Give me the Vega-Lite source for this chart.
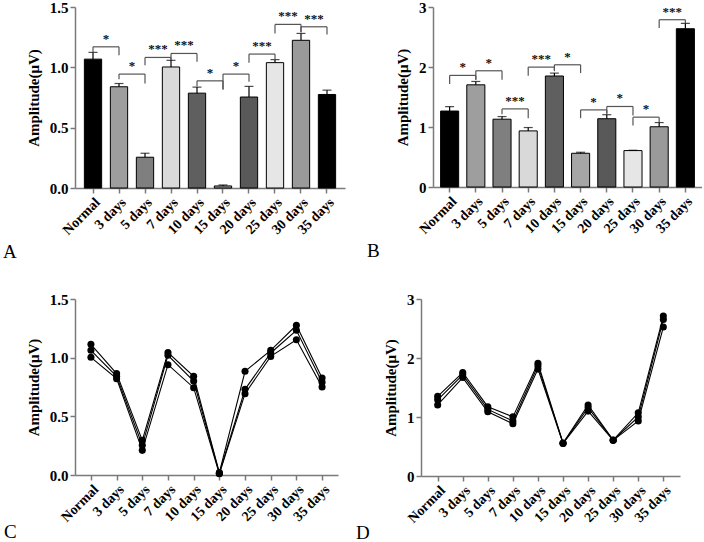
{
  "$schema": "https://vega.github.io/schema/vega-lite/v6.json",
  "background": "white",
  "padding": {"left": 3, "top": 0, "right": 0, "bottom": 0},
  "config": {
    "font": "Liberation Serif",
    "view": {"stroke": null},
    "axis": {
      "grid": false,
      "domainColor": "#7a7a7a", "domainWidth": 1.5,
      "tickColor": "#7a7a7a", "tickWidth": 1.5, "tickSize": 5,
      "labelFont": "Liberation Serif", "labelFontWeight": "bold", "labelFontSize": 15, "labelColor": "#000000", "labelPadding": 2,
      "titleFont": "Liberation Serif", "titleFontWeight": "bold", "titleFontSize": 15, "titleColor": "#000000", "titlePadding": 8
    },
    "axisX": {"labelAngle": -45, "labelFontSize": 14},
    "title": {"font": "Liberation Serif", "fontSize": 19, "fontWeight": "normal", "color": "#000000", "orient": "bottom", "anchor": "start", "frame": "group"}
  },
  "datasets": {
    "barsA": [
      {"day": "Normal", "mean": 1.068, "upper": 1.124},
      {"day": "3 days", "mean": 0.839, "upper": 0.866},
      {"day": "5 days", "mean": 0.255, "upper": 0.288},
      {"day": "7 days", "mean": 1.003, "upper": 1.058},
      {"day": "10 days", "mean": 0.786, "upper": 0.836},
      {"day": "15 days", "mean": 0.017, "upper": 0.025},
      {"day": "20 days", "mean": 0.754, "upper": 0.842},
      {"day": "25 days", "mean": 1.039, "upper": 1.064},
      {"day": "30 days", "mean": 1.224, "upper": 1.281},
      {"day": "35 days", "mean": 0.775, "upper": 0.811}
    ],
    "barsB": [
      {"day": "Normal", "mean": 1.266, "upper": 1.339},
      {"day": "3 days", "mean": 1.703, "upper": 1.759},
      {"day": "5 days", "mean": 1.130, "upper": 1.174},
      {"day": "7 days", "mean": 0.935, "upper": 0.991},
      {"day": "10 days", "mean": 1.850, "upper": 1.898},
      {"day": "15 days", "mean": 0.562, "upper": 0.579},
      {"day": "20 days", "mean": 1.138, "upper": 1.205},
      {"day": "25 days", "mean": 0.607, "upper": 0.612},
      {"day": "30 days", "mean": 1.004, "upper": 1.074},
      {"day": "35 days", "mean": 2.638, "upper": 2.727}
    ],
    "sigA": [
      {"from": "Normal", "to": "3 days", "top": 1.170, "leftEnd": 1.120, "rightEnd": 1.101, "label": "*"},
      {"from": "3 days", "to": "5 days", "top": 0.944, "leftEnd": 0.902, "rightEnd": 0.866, "label": "*"},
      {"from": "5 days", "to": "7 days", "top": 1.082, "leftEnd": 1.018, "rightEnd": 1.060, "label": "***"},
      {"from": "7 days", "to": "10 days", "top": 1.115, "leftEnd": 1.060, "rightEnd": 1.046, "label": "***"},
      {"from": "10 days", "to": "15 days", "top": 0.888, "leftEnd": 0.844, "rightEnd": 0.816, "label": "*"},
      {"from": "15 days", "to": "20 days", "top": 0.944, "leftEnd": 0.816, "rightEnd": 0.880, "label": "*"},
      {"from": "20 days", "to": "25 days", "top": 1.110, "leftEnd": 1.037, "rightEnd": 1.060, "label": "***"},
      {"from": "25 days", "to": "30 days", "top": 1.356, "leftEnd": 1.281, "rightEnd": 1.290, "label": "***"},
      {"from": "30 days", "to": "35 days", "top": 1.336, "leftEnd": 1.290, "rightEnd": 1.273, "label": "***"}
    ],
    "sigB": [
      {"from": "Normal", "to": "3 days", "top": 1.860, "leftEnd": 1.715, "rightEnd": 1.786, "label": "*"},
      {"from": "3 days", "to": "5 days", "top": 1.937, "leftEnd": 1.786, "rightEnd": 1.786, "label": "*"},
      {"from": "5 days", "to": "7 days", "top": 1.302, "leftEnd": 1.214, "rightEnd": 1.147, "label": "***"},
      {"from": "7 days", "to": "10 days", "top": 1.998, "leftEnd": 1.853, "rightEnd": 1.930, "label": "***"},
      {"from": "10 days", "to": "15 days", "top": 2.037, "leftEnd": 1.950, "rightEnd": 1.898, "label": "*"},
      {"from": "15 days", "to": "20 days", "top": 1.285, "leftEnd": 1.147, "rightEnd": 1.220, "label": "*"},
      {"from": "20 days", "to": "25 days", "top": 1.342, "leftEnd": 1.220, "rightEnd": 1.191, "label": "*"},
      {"from": "25 days", "to": "30 days", "top": 1.164, "leftEnd": 1.025, "rightEnd": 1.080, "label": "*"},
      {"from": "30 days", "to": "35 days", "top": 2.788, "leftEnd": 2.649, "rightEnd": 2.733, "label": "***"}
    ],
    "linesC": [
      {"day": "Normal", "rep": "r1", "value": 1.114}, {"day": "Normal", "rep": "r2", "value": 1.063}, {"day": "Normal", "rep": "r3", "value": 1.003},
      {"day": "3 days", "rep": "r1", "value": 0.864}, {"day": "3 days", "rep": "r2", "value": 0.841}, {"day": "3 days", "rep": "r3", "value": 0.821},
      {"day": "5 days", "rep": "r1", "value": 0.295}, {"day": "5 days", "rep": "r2", "value": 0.253}, {"day": "5 days", "rep": "r3", "value": 0.210},
      {"day": "7 days", "rep": "r1", "value": 1.043}, {"day": "7 days", "rep": "r2", "value": 1.020}, {"day": "7 days", "rep": "r3", "value": 0.940},
      {"day": "10 days", "rep": "r1", "value": 0.841}, {"day": "10 days", "rep": "r2", "value": 0.801}, {"day": "10 days", "rep": "r3", "value": 0.744},
      {"day": "15 days", "rep": "r1", "value": 0.020}, {"day": "15 days", "rep": "r2", "value": 0.015}, {"day": "15 days", "rep": "r3", "value": 0.010},
      {"day": "20 days", "rep": "r1", "value": 0.884}, {"day": "20 days", "rep": "r2", "value": 0.730}, {"day": "20 days", "rep": "r3", "value": 0.693},
      {"day": "25 days", "rep": "r1", "value": 1.062}, {"day": "25 days", "rep": "r2", "value": 1.040}, {"day": "25 days", "rep": "r3", "value": 1.011},
      {"day": "30 days", "rep": "r1", "value": 1.276}, {"day": "30 days", "rep": "r2", "value": 1.233}, {"day": "30 days", "rep": "r3", "value": 1.153},
      {"day": "35 days", "rep": "r1", "value": 0.827}, {"day": "35 days", "rep": "r2", "value": 0.790}, {"day": "35 days", "rep": "r3", "value": 0.750}
    ],
    "linesD": [
      {"day": "Normal", "rep": "r1", "value": 1.349}, {"day": "Normal", "rep": "r2", "value": 1.291}, {"day": "Normal", "rep": "r3", "value": 1.204},
      {"day": "3 days", "rep": "r1", "value": 1.754}, {"day": "3 days", "rep": "r2", "value": 1.714}, {"day": "3 days", "rep": "r3", "value": 1.668},
      {"day": "5 days", "rep": "r1", "value": 1.175}, {"day": "5 days", "rep": "r2", "value": 1.129}, {"day": "5 days", "rep": "r3", "value": 1.089},
      {"day": "7 days", "rep": "r1", "value": 1.002}, {"day": "7 days", "rep": "r2", "value": 0.932}, {"day": "7 days", "rep": "r3", "value": 0.886},
      {"day": "10 days", "rep": "r1", "value": 1.911}, {"day": "10 days", "rep": "r2", "value": 1.870}, {"day": "10 days", "rep": "r3", "value": 1.812},
      {"day": "15 days", "rep": "r1", "value": 0.560}, {"day": "15 days", "rep": "r2", "value": 0.556}, {"day": "15 days", "rep": "r3", "value": 0.552},
      {"day": "20 days", "rep": "r1", "value": 1.204}, {"day": "20 days", "rep": "r2", "value": 1.158}, {"day": "20 days", "rep": "r3", "value": 1.100},
      {"day": "25 days", "rep": "r1", "value": 0.610}, {"day": "25 days", "rep": "r2", "value": 0.607}, {"day": "25 days", "rep": "r3", "value": 0.604},
      {"day": "30 days", "rep": "r1", "value": 1.071}, {"day": "30 days", "rep": "r2", "value": 1.002}, {"day": "30 days", "rep": "r3", "value": 0.932},
      {"day": "35 days", "rep": "r1", "value": 2.710}, {"day": "35 days", "rep": "r2", "value": 2.652}, {"day": "35 days", "rep": "r3", "value": 2.525}
    ]
  },
  "vconcat": [
    {
      "hconcat": [
        {
          "width": 270, "height": 181,
          "title": {"text": "A", "dx": -72, "offset": 6},
          "layer": [
            {
              "data": {"name": "barsA"},
              "mark": {"type": "bar", "stroke": "#000000", "strokeWidth": 1},
              "encoding": {
                "x": {"field": "day", "type": "nominal", "title": null,
                      "scale": {"domain": ["Normal", "3 days", "5 days", "7 days", "10 days", "15 days", "20 days", "25 days", "30 days", "35 days"], "paddingInner": 0.335, "paddingOuter": 0.36}},
                "y": {"field": "mean", "type": "quantitative", "title": "Amplitude(μV)",
                      "scale": {"domain": [0, 1.5], "nice": false}, "axis": {"values": [0, 0.5, 1, 1.5], "format": ".1f"}},
                "color": {"field": "day", "type": "nominal", "legend": null,
                          "scale": {"domain": ["Normal", "3 days", "5 days", "7 days", "10 days", "15 days", "20 days", "25 days", "30 days", "35 days"],
                                    "range": ["#000000", "#9e9e9e", "#7f7f7f", "#d9d9d9", "#5f5f5f", "#a6a6a6", "#595959", "#e6e6e6", "#9a9a9a", "#000000"]}}
              }
            },
            {
              "data": {"name": "barsA"},
              "mark": {"type": "rule", "color": "#000000", "strokeWidth": 1.2},
              "encoding": {
                "x": {"field": "day", "type": "nominal", "title": null},
                "y": {"field": "mean", "type": "quantitative", "title": "Amplitude(μV)"},
                "y2": {"field": "upper"}
              }
            },
            {
              "data": {"name": "barsA"},
              "mark": {"type": "tick", "color": "#000000", "thickness": 1.2, "size": 9},
              "encoding": {
                "x": {"field": "day", "type": "nominal", "title": null},
                "y": {"field": "upper", "type": "quantitative", "title": "Amplitude(μV)"}
              }
            },
            {
              "data": {"name": "sigA"},
              "mark": {"type": "rule", "color": "#555555", "strokeWidth": 1.2},
              "encoding": {
                "x": {"field": "from", "type": "nominal", "title": null},
                "x2": {"field": "to"},
                "y": {"field": "top", "type": "quantitative", "title": "Amplitude(μV)"}
              }
            },
            {
              "data": {"name": "sigA"},
              "mark": {"type": "rule", "color": "#555555", "strokeWidth": 1.2},
              "encoding": {
                "x": {"field": "from", "type": "nominal", "title": null},
                "y": {"field": "top", "type": "quantitative", "title": "Amplitude(μV)"},
                "y2": {"field": "leftEnd"}
              }
            },
            {
              "data": {"name": "sigA"},
              "mark": {"type": "rule", "color": "#555555", "strokeWidth": 1.2},
              "encoding": {
                "x": {"field": "to", "type": "nominal", "title": null},
                "y": {"field": "top", "type": "quantitative", "title": "Amplitude(μV)"},
                "y2": {"field": "rightEnd"}
              }
            },
            {
              "data": {"name": "sigA"},
              "mark": {"type": "text", "dx": 13, "dy": -4, "baseline": "alphabetic", "align": "center", "fontSize": 13, "fontWeight": "bold", "color": "#111111"},
              "encoding": {
                "x": {"field": "from", "type": "nominal", "title": null},
                "y": {"field": "top", "type": "quantitative", "title": "Amplitude(μV)"},
                "text": {"field": "label"}
              }
            }
          ]
        },
        {
          "width": 269, "height": 180,
          "title": {"text": "B", "dx": -66, "offset": 6},
          "layer": [
            {
              "data": {"name": "barsB"},
              "mark": {"type": "bar", "stroke": "#000000", "strokeWidth": 1},
              "encoding": {
                "x": {"field": "day", "type": "nominal", "title": null,
                      "scale": {"domain": ["Normal", "3 days", "5 days", "7 days", "10 days", "15 days", "20 days", "25 days", "30 days", "35 days"], "paddingInner": 0.31, "paddingOuter": 0.29}},
                "y": {"field": "mean", "type": "quantitative", "title": "Amplitude(μV)",
                      "scale": {"domain": [0, 3], "nice": false}, "axis": {"values": [0, 1, 2, 3], "format": "d"}},
                "color": {"field": "day", "type": "nominal", "legend": null,
                          "scale": {"domain": ["Normal", "3 days", "5 days", "7 days", "10 days", "15 days", "20 days", "25 days", "30 days", "35 days"],
                                    "range": ["#000000", "#a3a3a3", "#737373", "#d9d9d9", "#5f5f5f", "#a6a6a6", "#575757", "#e6e6e6", "#9a9a9a", "#000000"]}}
              }
            },
            {
              "data": {"name": "barsB"},
              "mark": {"type": "rule", "color": "#000000", "strokeWidth": 1.2},
              "encoding": {
                "x": {"field": "day", "type": "nominal", "title": null},
                "y": {"field": "mean", "type": "quantitative", "title": "Amplitude(μV)"},
                "y2": {"field": "upper"}
              }
            },
            {
              "data": {"name": "barsB"},
              "mark": {"type": "tick", "color": "#000000", "thickness": 1.2, "size": 9},
              "encoding": {
                "x": {"field": "day", "type": "nominal", "title": null},
                "y": {"field": "upper", "type": "quantitative", "title": "Amplitude(μV)"}
              }
            },
            {
              "data": {"name": "sigB"},
              "mark": {"type": "rule", "color": "#555555", "strokeWidth": 1.2},
              "encoding": {
                "x": {"field": "from", "type": "nominal", "title": null},
                "x2": {"field": "to"},
                "y": {"field": "top", "type": "quantitative", "title": "Amplitude(μV)"}
              }
            },
            {
              "data": {"name": "sigB"},
              "mark": {"type": "rule", "color": "#555555", "strokeWidth": 1.2},
              "encoding": {
                "x": {"field": "from", "type": "nominal", "title": null},
                "y": {"field": "top", "type": "quantitative", "title": "Amplitude(μV)"},
                "y2": {"field": "leftEnd"}
              }
            },
            {
              "data": {"name": "sigB"},
              "mark": {"type": "rule", "color": "#555555", "strokeWidth": 1.2},
              "encoding": {
                "x": {"field": "to", "type": "nominal", "title": null},
                "y": {"field": "top", "type": "quantitative", "title": "Amplitude(μV)"},
                "y2": {"field": "rightEnd"}
              }
            },
            {
              "data": {"name": "sigB"},
              "mark": {"type": "text", "dx": 13, "dy": -4, "baseline": "alphabetic", "align": "center", "fontSize": 13, "fontWeight": "bold", "color": "#111111"},
              "encoding": {
                "x": {"field": "from", "type": "nominal", "title": null},
                "y": {"field": "top", "type": "quantitative", "title": "Amplitude(μV)"},
                "text": {"field": "label"}
              }
            }
          ]
        }
      ],
      "spacing": 22
    },
    {
      "hconcat": [
        {
          "width": 263, "height": 176,
          "title": {"text": "C", "dx": -71, "offset": -1},
          "data": {"name": "linesC"},
          "mark": {"type": "line", "color": "#000000", "strokeWidth": 1.1, "point": {"filled": true, "color": "#000000", "size": 50}},
          "encoding": {
            "x": {"field": "day", "type": "ordinal", "title": null,
                  "scale": {"domain": ["Normal", "3 days", "5 days", "7 days", "10 days", "15 days", "20 days", "25 days", "30 days", "35 days"], "padding": 0.62}},
            "y": {"field": "value", "type": "quantitative", "title": "Amplitude(μV)",
                  "scale": {"domain": [0, 1.5], "nice": false}, "axis": {"values": [0, 0.5, 1, 1.5], "format": ".1f"}},
            "detail": {"field": "rep", "type": "nominal"}
          }
        },
        {
          "width": 259, "height": 177,
          "title": {"text": "D", "dx": -65, "offset": -1},
          "data": {"name": "linesD"},
          "mark": {"type": "line", "color": "#000000", "strokeWidth": 1.1, "point": {"filled": true, "color": "#000000", "size": 50}},
          "encoding": {
            "x": {"field": "day", "type": "ordinal", "title": null,
                  "scale": {"domain": ["Normal", "3 days", "5 days", "7 days", "10 days", "15 days", "20 days", "25 days", "30 days", "35 days"], "padding": 0.665}},
            "y": {"field": "value", "type": "quantitative", "title": "Amplitude(μV)",
                  "scale": {"domain": [0, 3], "nice": false}, "axis": {"values": [0, 1, 2, 3], "format": "d"}},
            "detail": {"field": "rep", "type": "nominal"}
          }
        }
      ],
      "spacing": 18
    }
  ],
  "spacing": 29
}
